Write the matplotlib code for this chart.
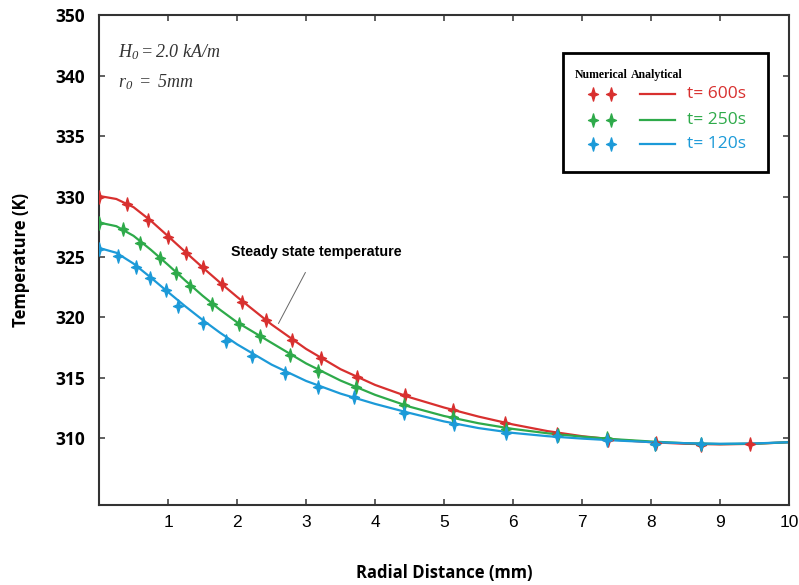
import numpy as np
import matplotlib
matplotlib.use("Agg")
from matplotlib import pyplot
from matplotlib.path import Path
from matplotlib.patches import Rectangle

# numerical results (markers)
r_600 = [0.0, 0.40, 0.71, 1.00, 1.26, 1.50, 1.78, 2.07, 2.42, 2.80, 3.21, 3.74,
         4.43, 5.13, 5.88, 6.63, 7.37, 8.07, 8.72, 9.43]
T_600 = [330.0, 329.37, 328.09, 326.64, 325.33, 324.18, 322.73, 321.31, 319.81,
         318.16, 316.68, 315.11, 313.58, 312.35, 311.29, 310.39, 309.89, 309.61,
         309.43, 309.57]
r_250 = [0.0, 0.34, 0.60, 0.88, 1.11, 1.32, 1.63, 2.03, 2.33, 2.77, 3.18, 3.72,
         4.42, 5.13, 5.90, 6.65, 7.36, 8.06, 8.73]
T_250 = [327.81, 327.32, 326.15, 324.94, 323.71, 322.62, 321.09, 319.45, 318.43,
         316.89, 315.57, 314.26, 312.76, 311.75, 310.80, 310.30, 310.02, 309.57,
         309.51]
r_120 = [0.0, 0.28, 0.53, 0.74, 0.97, 1.15, 1.51, 1.84, 2.22, 2.70, 3.17, 3.69,
         4.42, 5.14, 5.90, 6.64, 7.36, 8.06, 8.73]
T_120 = [325.68, 325.08, 324.18, 323.30, 322.27, 320.98, 319.53, 318.09, 316.84,
         315.43, 314.28, 313.39, 312.09, 311.15, 310.43, 310.20, 309.89, 309.57,
         309.57]

# analytical curves
r_an = [0, 0.25, 0.5, 0.75, 1.0, 1.25, 1.5, 1.75, 2.0, 2.5, 3.0, 3.5, 4.0, 4.5,
        5.0, 5.5, 6.0, 6.5, 7.0, 7.5, 8.0, 8.5, 9.0, 9.5, 10]
T_an_600 = [330.05, 329.8, 329.12, 328.0, 326.72, 325.42, 324.14, 322.9, 321.7,
            319.42, 317.4, 315.72, 314.42, 313.4, 312.55, 311.8, 311.15, 310.6,
            310.18, 309.88, 309.68, 309.55, 309.5, 309.55, 309.68]
T_an_250 = [327.85, 327.55, 326.75, 325.6, 324.35, 323.05, 321.8, 320.65, 319.6,
            317.9, 316.2, 314.78, 313.6, 312.62, 311.85, 311.25, 310.78, 310.42,
            310.14, 309.92, 309.74, 309.6, 309.53, 309.56, 309.68]
T_an_120 = [325.75, 325.35, 324.45, 323.3, 322.1, 320.92, 319.8, 318.75, 317.78,
            316.1, 314.75, 313.7, 312.85, 312.1, 311.4, 310.85, 310.45, 310.18,
            309.98, 309.82, 309.69, 309.6, 309.55, 309.58, 309.68]

labels = ["t= 600s", "t= 250s", "t= 120s"]
colors = ["#d8302f", "#2eaa4a", "#1c9ad8"]

yticks = [310, 315, 320, 325, 330, 335, 340, 345]
ytick_labels = ["310", "315", "320", "325", "330", "335", "340", "350"]
xticks = [1, 2, 3, 4, 5, 6, 7, 8, 9, 10]

# four pointed star marker
star = Path([(0, 1), (0.22, 0.22), (0.75, 0), (0.22, -0.22), (0, -1),
             (-0.22, -0.22), (-0.75, 0), (-0.22, 0.22), (0, 1)], closed=True)

pyplot.rcParams['mathtext.fontset'] = 'custom'
pyplot.rcParams['mathtext.rm'] = 'Liberation Serif:italic'
pyplot.rcParams['mathtext.it'] = 'Liberation Serif:italic'

fig = pyplot.figure(figsize=(7.99, 5.85), dpi=100)
ax = fig.add_axes([0.124, 0.137, 0.8635, 0.837])

nums = [(r_600, T_600), (r_250, T_250), (r_120, T_120)]
ans = [T_an_600, T_an_250, T_an_120]
for (r, T), Ta, c in zip(nums, ans, colors):
    ax.plot(r_an, Ta, color=c, lw=1.6, zorder=2, solid_joinstyle="round")
    ax.plot(r, T, ls="none", marker=star, ms=9.5, color=c, mec=c, zorder=3)

ax.set_xlim(0, 10)
ax.set_ylim(304.5, 345)
ax.set_xticks(xticks)
ax.set_xticklabels([str(v) for v in xticks], family="Liberation Sans", fontsize=12.5)
ax.set_yticks(yticks)
ax.set_yticklabels(ytick_labels, family="Open Sans", fontweight="bold", fontsize=12.5)
ax.tick_params(direction="in", top=True, right=True, length=4, width=1.2,
               color="#444444")
ax.tick_params(axis="x", pad=7)
ax.tick_params(axis="y", pad=10)
for s in ax.spines.values():
    s.set_linewidth(1.5)
    s.set_color("#333333")

ax.set_xlabel("Radial Distance (mm)", family="Open Sans", fontweight="bold",
              fontsize=12, labelpad=25)
ax.set_ylabel("Temperature (K)", family="Open Sans", fontweight="bold",
              fontsize=12, labelpad=18)

# parameters
ax.text(0.027, 0.924, r"$H_0 = 2.0\ kA/m$", transform=ax.transAxes,
        fontsize=13, va="center", color="#333333")
ax.text(0.027, 0.863, r"$r_0\ =\ 5mm$", transform=ax.transAxes,
        fontsize=13, va="center", color="#333333")

# annotation
ax.annotate("Steady state temperature", xy=(2.6, 319.5), xytext=(3.15, 325.45),
            ha="center", va="center", family="Liberation Sans",
            fontweight="bold", fontsize=10.3,
            arrowprops=dict(arrowstyle="-", color="#666666", lw=0.7,
                            shrinkA=9, shrinkB=0))

# hand-made legend
ax.add_patch(Rectangle((0.672, 0.68), 0.298, 0.242, transform=ax.transAxes,
                       fill=False, ec="black", lw=2, zorder=5))
ax.text(0.7275, 0.878, "Numerical", transform=ax.transAxes, ha="center",
        va="center", family="Liberation Serif", fontweight="bold", fontsize=8.5)
ax.text(0.809, 0.878, "Analytical", transform=ax.transAxes, ha="center",
        va="center", family="Liberation Serif", fontweight="bold", fontsize=8.5)
rows = [0.840, 0.786, 0.737]
for y, c, lab in zip(rows, colors, labels):
    ax.plot([0.716, 0.742], [y, y], ls="none", marker=star, ms=9.5, color=c,
            transform=ax.transAxes, clip_on=False)
    ax.plot([0.784, 0.835], [y, y], color=c, lw=1.6, transform=ax.transAxes)
    ax.text(0.852, y, lab, transform=ax.transAxes, color=c, va="center",
            family="Open Sans", fontsize=12.5)

fig.savefig("out.png", dpi=100)
